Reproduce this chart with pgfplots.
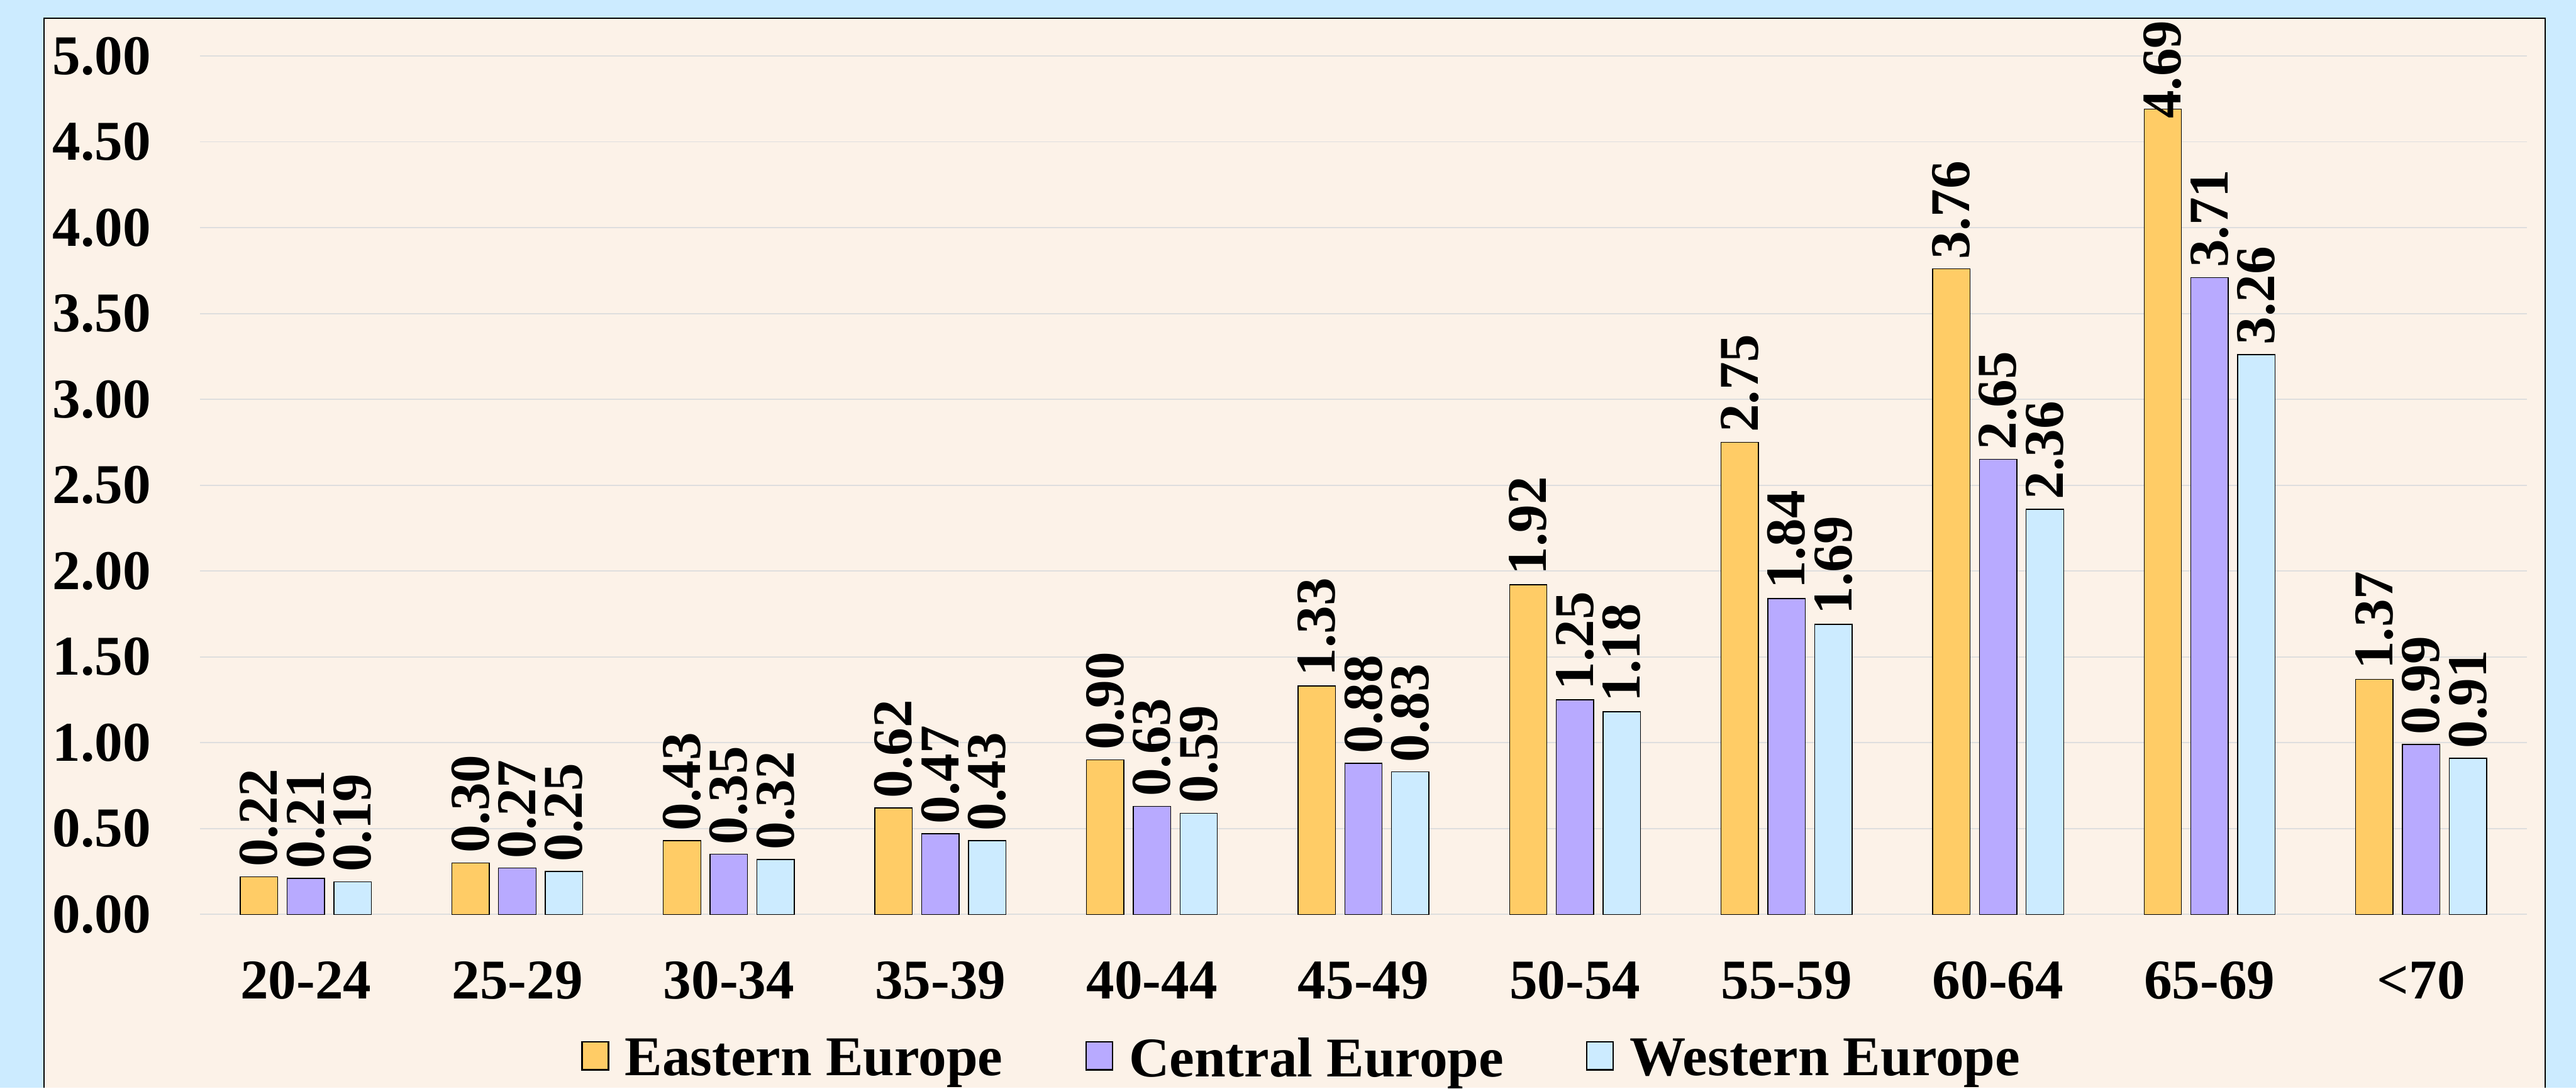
\documentclass[border=0pt]{standalone}
\usepackage{pgfplots}
\pgfplotsset{compat=1.18}
\usepackage{fontspec}
\setmainfont{Liberation Serif}
\definecolor{bgblue}{RGB}{204,235,255}
\definecolor{panel}{RGB}{252,242,232}
\definecolor{cEast}{RGB}{255,204,102}
\definecolor{cCent}{RGB}{184,170,255}
\definecolor{cWest}{RGB}{204,235,255}
\definecolor{gridc}{RGB}{222,222,222}
\newcommand{\lf}{\fontsize{9.6}{11}\selectfont\bfseries}
\begin{document}
\begin{tikzpicture}
\fill[bgblue] (0,0) rectangle (440.5pt,186.1pt);
\fill[panel] (7.5pt,0) rectangle (435.2pt,183.0pt);
\draw[line width=0.25pt] (7.5pt,0) -- (7.5pt,183.0pt) -- (435.2pt,183.0pt) -- (435.2pt,0);
\useasboundingbox (0,0) rectangle (440.5pt,186.1pt);
\begin{axis}[
  at={(34.2pt,29.7pt)}, anchor=south west,
  scale only axis, width=397.9pt, height=146.83pt,
  xmin=-0.5, xmax=10.5, ymin=0, ymax=5,
  clip=false,
  ybar=1.6pt, bar width=6.4pt,
  axis line style={draw=none},
  major tick length=0pt,
  xtick={0,1,2,3,4,5,6,7,8,9,10},
  xticklabels={20-24,25-29,30-34,35-39,40-44,45-49,50-54,55-59,60-64,65-69,<70},
  ytick={0,0.5,1,1.5,2,2.5,3,3.5,4,4.5,5},
  ymajorgrids, grid style={gridc, line width=0.2pt},
  yticklabel style={font=\lf, anchor=east, inner sep=0pt, xshift=-8.2pt,
    /pgf/number format/.cd, fixed, fixed zerofill, precision=2, assume math mode=true},
  xticklabel style={font=\lf, anchor=base, inner sep=0pt, yshift=-14.4pt},
  visualization depends on={y \as \rawy},
  nodes near coords={\pgfmathprintnumber[fixed,fixed zerofill,precision=2,assume math mode=true]{\pgfplotspointmeta}},
  every node near coord/.append style={font=\lf, rotate=90, anchor=west, inner sep=0pt,
    xshift={ifthenelse(\rawy>4.5,-1.7,1.6)}},
  legend columns=3,
  legend style={at={(0.1639,-0.1716)}, anchor=west, draw=none, fill=none,
    inner sep=0pt, outer sep=0pt, font=\lf,
    nodes={inner sep=0pt},
    /tikz/every odd column/.append style={column sep=2.7pt},
    /tikz/every even column/.append style={column sep=14.1pt}},
]
\addplot[fill=cEast, draw=black, line width=0.15pt,
  legend image code/.code={\draw[fill=cEast, draw=black, line width=0.25pt] (0pt,-1.4pt) rectangle (4.5pt,3.4pt);}]
  coordinates {(0,0.22) (1,0.30) (2,0.43) (3,0.62) (4,0.90) (5,1.33) (6,1.92) (7,2.75) (8,3.76) (9,4.69) (10,1.37)};
\addplot[fill=cCent, draw=black, line width=0.15pt,
  legend image code/.code={\draw[fill=cCent, draw=black, line width=0.25pt] (0pt,-1.4pt) rectangle (4.5pt,3.4pt);}]
  coordinates {(0,0.21) (1,0.27) (2,0.35) (3,0.47) (4,0.63) (5,0.88) (6,1.25) (7,1.84) (8,2.65) (9,3.71) (10,0.99)};
\addplot[fill=cWest, draw=black, line width=0.15pt,
  legend image code/.code={\draw[fill=cWest, draw=black, line width=0.25pt] (0pt,-1.4pt) rectangle (4.5pt,3.4pt);}]
  coordinates {(0,0.19) (1,0.25) (2,0.32) (3,0.43) (4,0.59) (5,0.83) (6,1.18) (7,1.69) (8,2.36) (9,3.26) (10,0.91)};
\legend{Eastern Europe, Central Europe, Western Europe}
\end{axis}
\end{tikzpicture}
\end{document}
